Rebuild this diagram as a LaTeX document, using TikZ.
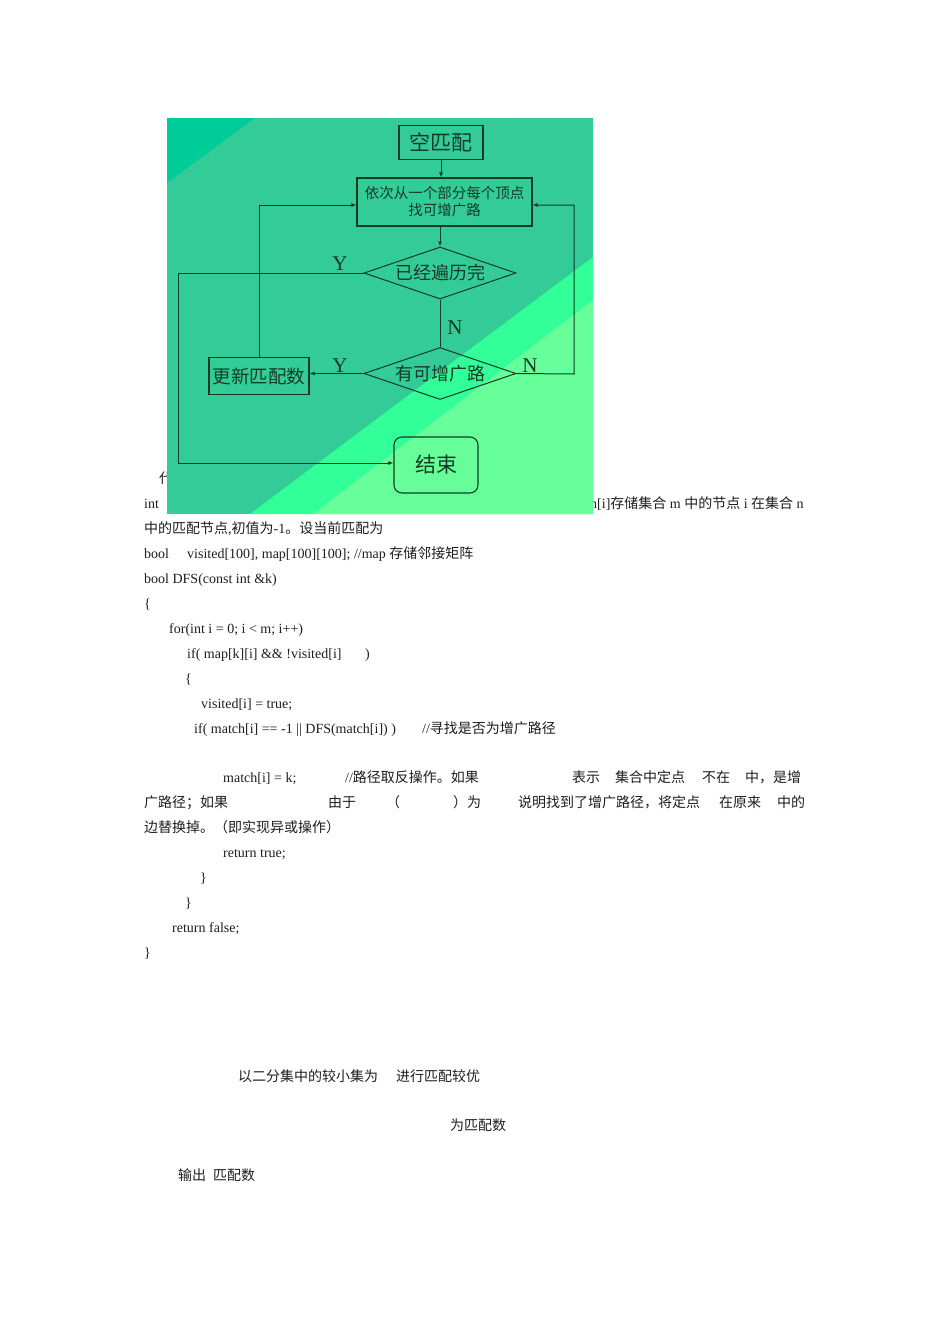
\documentclass[tikz,border=0pt]{standalone}
\usepackage{fontspec}
\setmainfont{Liberation Serif}
\newfontfamily\cjk{Noto Sans CJK SC}
\usepackage{tikz}
\usetikzlibrary{arrows.meta}
\usetikzlibrary{shapes.geometric}
\usetikzlibrary{positioning}
\definecolor{bgbase}{RGB}{51,204,153}
\definecolor{bgdark}{RGB}{0,204,153}
\definecolor{bgbright}{RGB}{51,255,153}
\definecolor{bglight}{RGB}{102,255,153}
\definecolor{flowclr}{RGB}{22,58,40}
\definecolor{bodyclr}{RGB}{30,30,30}
\newcommand{\zh}[1]{{\cjk #1}}

\begin{document}
\begin{tikzpicture}[x=1pt, y=-1pt,
    txt/.style={anchor=base west, inner sep=0pt, text=bodyclr, font=\fontsize{14}{14}\selectfont},
    procbox/.style={draw=flowclr, line width=1.1pt, inner sep=0pt, text=flowclr, align=center},
    endbox/.style={procbox, rounded corners=8pt},
    decision/.style={diamond, draw=flowclr, line width=1pt, aspect=2.9, inner sep=0pt,
      minimum width=152pt, minimum height=52pt, text=flowclr, font=\cjk\fontsize{18}{18}\selectfont},
    yn/.style={inner sep=0pt, text=flowclr, font=\fontsize{21}{21}\selectfont},
    flow/.style={draw=flowclr, line width=1pt, -{Latex[length=5pt,width=4pt]}},
    link/.style={draw=flowclr, line width=1pt}]
    \useasboundingbox[fill=white] (0,0) rectangle (950,1344);

    % text of the page
    \node[txt] (dai) at (159,483) {\zh{代}};
    \node[txt] (intkw) at (144,508) {int};
    \node[txt] (matcharr) at (590,508) {h[i]\zh{存储集合} m \zh{中的节点} i \zh{在集合} n};
    \node[txt] (initval) at (144,533) {\zh{中的匹配节点},\zh{初值为}-1\zh{。设当前匹配为}};
    \node[txt] (boolkw) at (144,558) {bool};
    \node[txt] (visdecl) at (187,558) {visited[100], map[100][100]; //map \zh{存储邻接矩阵}};
    \node[txt] (dfshead) at (144,583) {bool DFS(const int \&k)};
    \node[txt] (brace1) at (144,608) {\{};
    \node[txt] (forloop) at (169,633) {for(int i = 0; i < m; i++)};
    \node[txt] (iftest) at (187,658) {if( map[k][i] \&\& !visited[i]};
    \node[txt] (ifclose) at (365,658) {)};
    \node[txt] (brace2) at (185,683) {\{};
    \node[txt] (visset) at (201,708) {visited[i] = true;};
    \node[txt] (ifmatch) at (194,733) {if( match[i] == -1 || DFS(match[i]) )};
    \node[txt] (cmtfind) at (422,733) {//\zh{寻找是否为增广路径}};
    \node[txt] (matchset) at (223,782) {match[i] = k;};
    \node[txt] (cmtflip) at (345,782) {//\zh{路径取反操作。如果}};
    \node[txt] (wbiao) at (572,782) {\zh{表示}};
    \node[txt] (wset) at (615,782) {\zh{集合中定点}};
    \node[txt] (wnot) at (702,782) {\zh{不在}};
    \node[txt] (wzhong) at (745,782) {\zh{中，是增}};
    \node[txt] (wpath) at (144,807) {\zh{广路径；如果}};
    \node[txt] (wyouyu) at (328,807) {\zh{由于}};
    \node[txt] (wlpar) at (386,807) {\zh{（}};
    \node[txt] (wrpar) at (453,807) {\zh{）为}};
    \node[txt] (wfound) at (518,807) {\zh{说明找到了增广路径，将定点}};
    \node[txt] (worig) at (719,807) {\zh{在原来}};
    \node[txt] (wde) at (777,807) {\zh{中的}};
    \node[txt] (wswap) at (144,832) {\zh{边替换掉。（即实现异或操作）}};
    \node[txt] (rettrue) at (223,857) {return true;};
    \node[txt] (brace3) at (200,882) {\}};
    \node[txt] (brace4) at (185,907) {\}};
    \node[txt] (retfalse) at (172,932) {return false;};
    \node[txt] (brace5) at (144,957) {\}};
    \node[txt] (smaller) at (238,1081) {\zh{以二分集中的较小集为}};
    \node[txt] (better) at (396,1081) {\zh{进行匹配较优}};
    \node[txt] (ascount) at (450,1130) {\zh{为匹配数}};
    \node[txt] (output) at (178,1180) {\zh{输出}};
    \node[txt] (outcount) at (213,1180) {\zh{匹配数}};

    % background of the flowchart
    \fill[bgbase] (167,118) rectangle (593,514);
    \fill[bgdark] (167,118) -- (255,118) -- (167,183) -- cycle;
    \fill[bgbright] (250,514) -- (593,257) -- (593,514) -- cycle;
    \fill[bglight] (313,514) -- (593,300) -- (593,514) -- cycle;

    % flowchart
    \node[procbox, minimum width=84pt, minimum height=34pt, font=\cjk\fontsize{21}{21}\selectfont] (empty) at (441,142.5) {空匹配};
    \node[procbox, minimum width=175pt, minimum height=48pt, font=\cjk\fontsize{14.5}{17}\selectfont] (search) at (444.5,202) {依次从一个部分每个顶点\\找可增广路};
    \node[decision] (alldone) at (440,273) {已经遍历完};
    \node[decision] (hasaug) at (440,373.5) {有可增广路};
    \node[procbox, minimum width=100pt, minimum height=37pt, font=\cjk\fontsize{18.5}{18.5}\selectfont] (update) at (259,376) {更新匹配数};
    \node[endbox, minimum width=84pt, minimum height=56pt, font=\cjk\fontsize{21}{21}\selectfont] (finish) at (436,465) {结束};
    \coordinate (leftrail) at (178,463);
    \coordinate (rightrail) at (574,374);

    \draw[flow] (empty) -- (empty |- search.north);
    \draw[flow] (search.south -| alldone.north) -- (alldone.north);
    \draw[link] (alldone.south) -- (hasaug.north);
    \draw[flow] (alldone.west) -| (leftrail) -- (leftrail -| finish.west);
    \draw[flow] (hasaug.west) -- (hasaug.west -| update.east);
    \draw[flow] (hasaug.east) -- (rightrail) |- ([yshift=-3pt]search.east);
    \draw[flow] (update.north) |- ([yshift=-3pt]search.west);

    \node[yn] (ydone) at (340,264) {Y};
    \node[yn] (ndone) at (455,328) {N};
    \node[yn] (yaug) at (340,366) {Y};
    \node[yn] (naug) at (530,366) {N};
\end{tikzpicture}
\end{document}
